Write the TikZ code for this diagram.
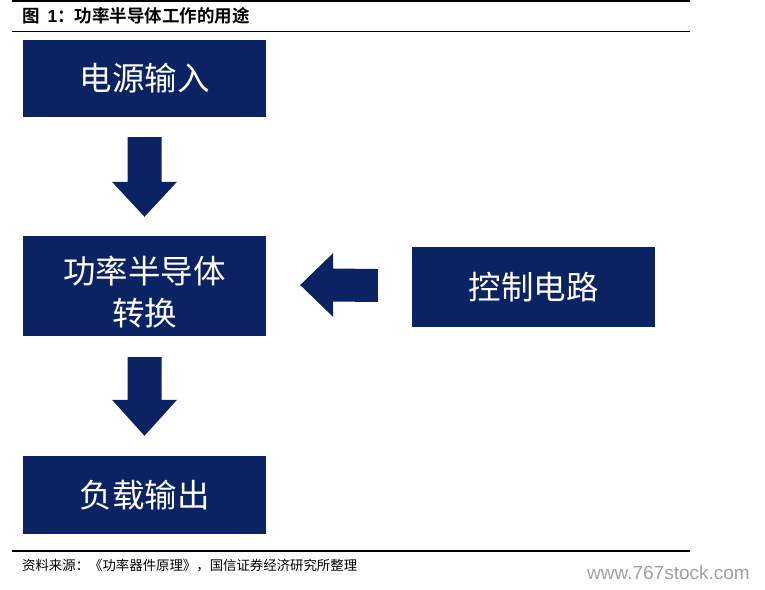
\documentclass[tikz,border=0pt]{standalone}
\usepackage{fontspec}
\usetikzlibrary{calc}
\newfontfamily\cjk{Noto Sans CJK SC}
\newfontfamily\cjkb{Noto Sans CJK SC Bold}
\newfontfamily\lsans{Liberation Sans}
\definecolor{navy}{RGB}{11,35,99}
\definecolor{wm}{RGB}{160,160,160}
\tikzset{
  boxst/.style={fill=navy, text=white, minimum width=243pt, inner sep=0pt, align=center,
    font=\cjk\fontsize{32.5}{42}\selectfont},
  fatarrow/.style={fill=navy, draw=none},
  rule/.style={line width=1.1pt, black}
}
\begin{document}
\begin{tikzpicture}[x=1pt,y=-1pt]
\useasboundingbox (0,0) rectangle (765,589);
% rules
\draw[rule] (12,1) -- (690,1);
\draw[rule] (12,31.5) -- (690,31.5);
\draw[rule] (12,551) -- (690,551);
% title
\node[anchor=west, inner sep=0pt, font=\cjkb\fontsize{17.5}{19}\selectfont] (title) at (22,15.5)
  {图\hspace{8pt}{\lsans\bfseries 1}：功率半导体工作的用途};
% boxes
\node[boxst, minimum height=77pt] (b1) at (144.5,78.5) {电源输入};
\node[boxst, minimum height=100pt] (b2) at (144.5,286) {\rule{0pt}{40pt}功率半导体\\转换};
\node[boxst, minimum height=80pt] (b3) at (533.5,287) {控制电路};
\node[boxst, minimum height=78pt] (b4) at (144.5,495) {负载输出};
% down arrow 1
\coordinate (a1s) at ($(b1.south)+(0,20)$);
\coordinate (a1e) at ($(b2.north)+(0,-19)$);
\fill[fatarrow] ($(a1s)+(-17,0)$) -- ($(a1s)+(17,0)$) -- ($(a1e)+(17,-35)$) -- ($(a1e)+(32.5,-35)$)
  -- (a1e) -- ($(a1e)+(-32.5,-35)$) -- ($(a1e)+(-17,-35)$) -- cycle;
% down arrow 2
\coordinate (a2s) at ($(b2.south)+(0,21)$);
\coordinate (a2e) at ($(b4.north)+(0,-20)$);
\fill[fatarrow] ($(a2s)+(-17,0)$) -- ($(a2s)+(17,0)$) -- ($(a2e)+(17,-36)$) -- ($(a2e)+(32.5,-36)$)
  -- (a2e) -- ($(a2e)+(-32.5,-36)$) -- ($(a2e)+(-17,-36)$) -- cycle;
% left arrow
\coordinate (a3s) at ($(b3.west)+(-34,-1.5)$);
\coordinate (a3e) at ($(b2.east)+(34,-1)$);
\fill[fatarrow] ($(a3s)+(0,-16.5)$) -- ($(a3s)+(0,16.5)$) -- ($(a3e)+(33,16.5)$) -- ($(a3e)+(33,32)$)
  -- (a3e) -- ($(a3e)+(33,-32)$) -- ($(a3e)+(33,-16.5)$) -- cycle;
% footer
\node[anchor=west, inner sep=0pt, font=\cjk\fontsize{13.4}{15}\selectfont] (src) at (22,566)
  {资料来源：《功率器件原理》，国信证券经济研究所整理};
\node[anchor=west, inner sep=0pt, text=wm, font=\lsans\fontsize{19}{21}\selectfont] (wmk) at (587,573)
  {www.767stock.com};
\end{tikzpicture}
\end{document}
